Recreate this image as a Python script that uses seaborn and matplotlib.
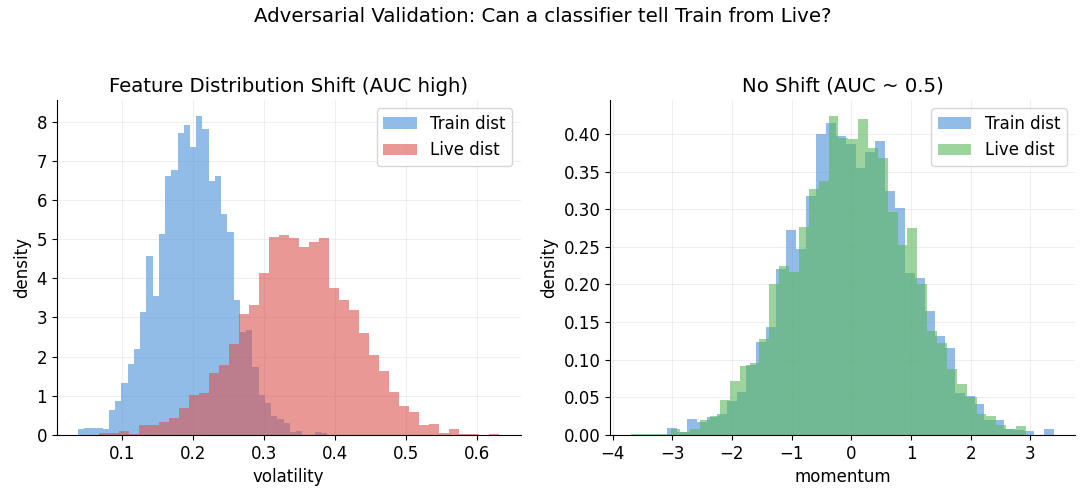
import numpy as np
import pandas as pd
import matplotlib
matplotlib.use("Agg")
import matplotlib.pyplot as plt
import seaborn as sns

# --- data (histogram densities per bin) ---
# left panel: volatility
vol_train_range = (0.0377, 0.3885)
vol_train_density = [0.15, 0.18, 0.18, 0.18, 0.15, 0.64, 0.87, 1.33, 1.82, 2.20,
                     3.14, 4.56, 3.54, 5.13, 6.62, 6.77, 7.70, 7.92, 7.36, 8.15,
                     7.82, 6.49, 6.62, 5.64, 5.18, 3.44, 2.62, 2.67, 1.74, 1.03,
                     0.82, 0.49, 0.41, 0.31, 0.08, 0.10, 0.0, 0.0, 0.08, 0.05]
vol_live_range = (0.068, 0.631)
vol_live_density = [0.04, 0.06, 0.10, 0.03, 0.24, 0.26, 0.34, 0.42, 0.68, 1.03,
                    1.08, 1.59, 1.79, 2.33, 3.10, 3.33, 4.13, 5.05, 5.10, 5.03,
                    4.79, 4.92, 5.03, 3.74, 3.44, 3.18, 2.59, 2.03, 1.62, 1.10,
                    0.74, 0.59, 0.26, 0.28, 0.05, 0.15, 0.03, 0.03, 0.0, 0.03]

# right panel: momentum
mom_train_range = (-3.087, 3.395)
mom_train_density = [0.0093, 0.0044, 0.021, 0.017, 0.024, 0.028, 0.045, 0.057, 0.093, 0.124,
                     0.144, 0.221, 0.272, 0.247, 0.317, 0.400, 0.415, 0.397, 0.387, 0.355,
                     0.376, 0.391, 0.324, 0.301, 0.215, 0.209, 0.165, 0.132, 0.116, 0.056,
                     0.052, 0.041, 0.020, 0.020, 0.008, 0.0067, 0.005, 0.0, 0.008]
mom_live_range = (-3.69, 2.926)
mom_live_density = [0.0012, 0.0012, 0.0012, 0.0012, 0.008, 0.0044, 0.008, 0.020, 0.025, 0.047,
                    0.071, 0.092, 0.096, 0.127, 0.201, 0.224, 0.216, 0.276, 0.327, 0.338,
                    0.424, 0.394, 0.393, 0.420, 0.381, 0.368, 0.296, 0.252, 0.275, 0.200,
                    0.138, 0.122, 0.088, 0.068, 0.051, 0.028, 0.025, 0.013, 0.008, 0.012]

BLUE = "#4a90d9"
RED = "#d9534f"
GREEN = "#5cb85c"


def hist_from_density(ax, rng, dens, color, label):
    n = len(dens)
    step = (rng[1] - rng[0]) / n
    centers = [rng[0] + step * (i + 0.5) for i in range(n)]
    df = pd.DataFrame({"x": centers, "w": dens})
    sns.histplot(data=df, x="x", weights="w", bins=n, binrange=rng, stat="count",
                 color=color, alpha=0.6, linewidth=0, label=label, ax=ax)


sns.set_style("ticks")
plt.rcParams["font.family"] = ["DejaVu Sans"]
plt.rcParams.update({
    "text.color": "black", "axes.labelcolor": "black", "axes.edgecolor": "black",
    "xtick.color": "black", "ytick.color": "black",
})

fig = plt.figure(figsize=(10.85, 4.97), dpi=100)
ax1 = fig.add_axes([0.0523, 0.125, 0.4275, 0.674])
ax2 = fig.add_axes([0.5622, 0.125, 0.4286, 0.674])

hist_from_density(ax1, vol_train_range, vol_train_density, BLUE, "Train dist")
hist_from_density(ax1, vol_live_range, vol_live_density, RED, "Live dist")
hist_from_density(ax2, mom_train_range, mom_train_density, BLUE, "Train dist")
hist_from_density(ax2, mom_live_range, mom_live_density, GREEN, "Live dist")

ax1.set_title("Feature Distribution Shift (AUC high)", fontsize=14.2)
ax1.set_xlabel("volatility", fontsize=12)
ax2.set_title("No Shift (AUC ~ 0.5)", fontsize=14.2)
ax2.set_xlabel("momentum", fontsize=12)

for ax in (ax1, ax2):
    ax.set_ylabel("density", fontsize=12)
    ax.grid(True, alpha=0.3)
    ax.tick_params(labelsize=12)
    ax.legend(fontsize=12, loc="upper right")
    sns.despine(ax=ax)

fig.suptitle("Adversarial Validation: Can a classifier tell Train from Live?",
             fontsize=14.2, y=0.985)

fig.savefig("out.png", dpi=100)
